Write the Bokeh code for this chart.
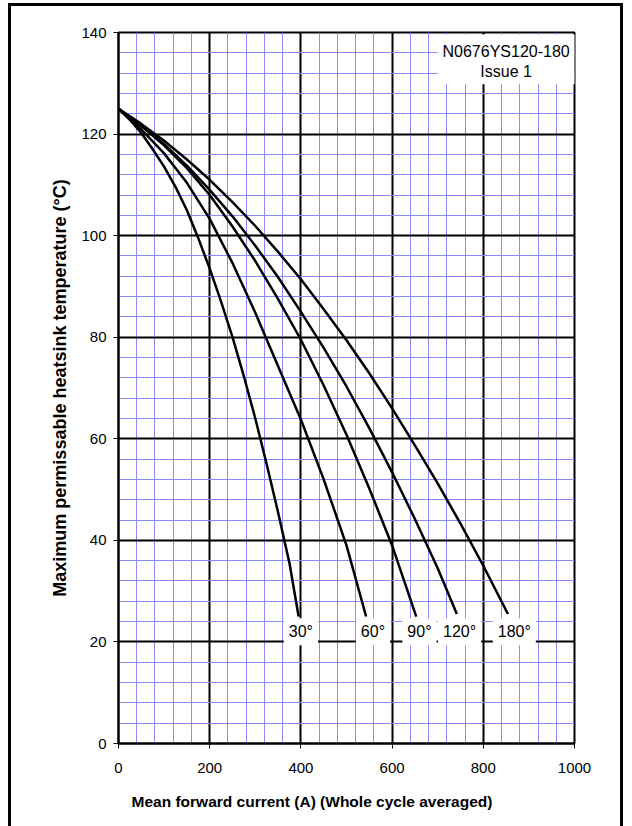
from bokeh.plotting import figure
from bokeh.models import FixedTicker, Label, BoxAnnotation, Range1d, Title
from bokeh.embed import file_html
from bokeh.resources import INLINE

# ---- data ----
x_ticks = [0, 200, 400, 600, 800, 1000]
x_minor = list(range(0, 1001, 40))
y_ticks = [0, 20, 40, 60, 80, 100, 120, 140]
y_minor = list(range(0, 141, 4))

a30_x = [0, 25, 50, 75, 100, 125, 150, 175, 200, 225, 250, 275, 300, 325, 350, 375, 395]
a30_y = [125, 122.8, 120.2, 117, 113.6, 109.6, 105, 99.5, 93.5, 87, 80, 72.3, 64, 55, 45.5, 35.5, 25]

a60_x = [0, 50, 100, 150, 200, 250, 300, 350, 400, 450, 500, 543]
a60_y = [125, 120.9, 116.2, 110.4, 103.3, 94.6, 84.8, 74.3, 63.8, 52, 39, 25]

a90_x = [0, 50, 100, 150, 200, 250, 300, 350, 400, 450, 500, 550, 600, 653]
a90_y = [125, 121.6, 117.8, 113.3, 108, 101.8, 95, 87.5, 79.5, 70.5, 60.8, 50.2, 39, 25]

a120_x = [0, 50, 100, 150, 200, 250, 300, 350, 400, 450, 500, 550, 600, 650, 700, 742]
a120_y = [125, 121.8, 118, 113.8, 109, 103.8, 98, 91.8, 85, 77.9, 70.3, 62.1, 53.4, 44.2, 34.5, 25.5]

a180_x = [0, 50, 100, 150, 200, 250, 300, 350, 400, 450, 500, 550, 600, 650, 700, 750, 800, 854]
a180_y = [125, 122, 118.7, 115, 111, 106.6, 101.9, 96.8, 91.4, 85.5, 79.4, 72.9, 66, 58.7, 51.2, 43.3, 35, 25.5]

curve_labels = ["30°", "60°", "90°", "120°", "180°"]
label_x = [400, 558, 660, 748, 868]
label_y = [22, 22, 22, 22, 22]

note_lines = ["N0676YS120-180", "Issue 1"]
note_x = 850
note_y = [136.3, 132.3]

x_title = "Mean forward current (A) (Whole cycle averaged)"
y_title = "Maximum permissable heatsink temperature (°C)"

FONT = "Liberation Sans"

p = figure(width=609, height=820,
           x_range=Range1d(0, 1000), y_range=Range1d(0, 140),
           output_backend="svg", toolbar_location=None,
           min_border_left=107, min_border_right=46,
           min_border_top=26, min_border_bottom=83)
p.margin = (6, 0, 0, 11)
p.styles = {"outline": "3px solid black", "outline-offset": "0px"}

p.background_fill_color = "white"
p.border_fill_color = "white"
p.outline_line_color = "black"
p.outline_line_width = 2

# grids
for g, ticks, minor in ((p.xgrid, x_ticks, x_minor), (p.ygrid, y_ticks, y_minor)):
    g.ticker = FixedTicker(ticks=ticks, minor_ticks=minor)
    g.grid_line_color = "black"
    g.grid_line_width = 2
    g.minor_grid_line_color = "#8a8aff"
    g.minor_grid_line_width = 1

# axes
p.xaxis.ticker = FixedTicker(ticks=x_ticks)
p.yaxis.ticker = FixedTicker(ticks=y_ticks)
for ax in (p.xaxis[0], p.yaxis[0]):
    ax.axis_line_color = "black"
    ax.axis_line_width = 2
    ax.major_tick_line_color = "black"
    ax.major_tick_line_width = 1
    ax.major_tick_out = 5
    ax.major_tick_in = 0
    ax.minor_tick_line_color = None
    ax.major_label_text_font = FONT
    ax.major_label_text_font_size = "15px"
    ax.major_label_text_color = "black"
p.xaxis.major_label_standoff = 14
p.yaxis.major_label_standoff = 7

# axis titles as side titles (x title sits left of the frame centre in the reference)
p.add_layout(Title(text=x_title, align="left", offset=13, standoff=30,
                   text_font=FONT, text_font_style="bold", text_font_size="15.5px",
                   text_color="black"), "below")
p.add_layout(Title(text=y_title, align="center", offset=-11, standoff=17,
                   text_font=FONT, text_font_style="bold", text_font_size="18px",
                   text_color="black"), "left")

# note box (behind curves, above grid)
p.add_layout(BoxAnnotation(left=700, right=1010, bottom=129.8, top=139.6,
                           fill_color="white", fill_alpha=1.0, line_color=None,
                           level="underlay"))

# curves
for xs, ys in ((a30_x, a30_y), (a60_x, a60_y), (a90_x, a90_y),
               (a120_x, a120_y), (a180_x, a180_y)):
    p.line(xs, ys, line_color="black", line_width=2.5, line_join="round")

# curve labels
for t, lx, ly in zip(curve_labels, label_x, label_y):
    p.add_layout(Label(x=lx, y=ly, text=t, text_align="center", text_baseline="middle",
                       text_font=FONT, text_font_size="16px", text_color="black",
                       background_fill_color="white", background_fill_alpha=1.0,
                       padding=5))

for t, ny in zip(note_lines, note_y):
    p.add_layout(Label(x=note_x, y=ny, text=t, text_align="center", text_baseline="middle",
                       text_font=FONT, text_font_size="16px", text_color="black"))

open("out.html", "w").write(file_html(p, INLINE))
